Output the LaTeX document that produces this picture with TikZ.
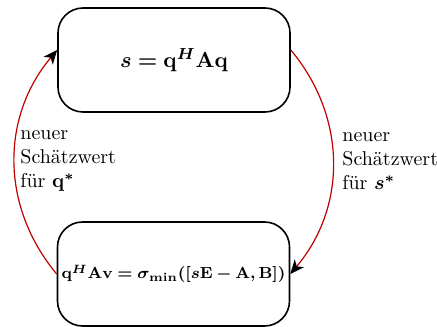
\documentclass[tikz,border=0pt]{standalone}
\usepackage{amsmath}
\usepackage{amssymb}
\usepackage{bm}
\usepackage{tikz}
\usetikzlibrary{arrows.meta}

\begin{document}
\begin{tikzpicture}[x=1pt,y=1pt,
  formel/.style={draw,thick,rounded corners=12.5pt,minimum width=116pt,minimum height=52pt,inner sep=1pt},
  update/.style={draw=red!75!black,semithick,-{Stealth[black,length=7pt,width=6pt,inset=2pt]}},
  hint/.style={align=left,anchor=west,inner sep=0pt}]
\useasboundingbox (0,0) rectangle (218.5,163);
\node[formel,font=\fontsize{11}{13}\selectfont] (schaetz) at (87,133) {$\bm{s}\bm{=}\mathbf{q}^{\bm{H}}\mathbf{A}\mathbf{q}$};
\node[formel,font=\fontsize{8.5}{10}\selectfont] (eigen) at (86.75,26) {$\mathbf{q}^{\bm{H}}\mathbf{A}\mathbf{v}\bm{=}\bm{\sigma}_{\mathbf{min}}\bm{(}\bm{[}\bm{s}\mathbf{E}\bm{-}\mathbf{A}\bm{,}\mathbf{B}\bm{]}\bm{)}$};
\node[hint] (neuq) at (10,82.5) {neuer\\Schätzwert\\für $\mathbf{q}^{\bm{*}}$};
\node[hint] (neus) at (171,82.5) {neuer\\Schätzwert\\für $\bm{s}^{\bm{*}}$};
\draw[update] ([yshift=5pt]schaetz.east) to[bend left=40] (eigen.east);
\draw[update] (eigen.west) to[bend left=40] ([yshift=5pt]schaetz.west);
\end{tikzpicture}
\end{document}
